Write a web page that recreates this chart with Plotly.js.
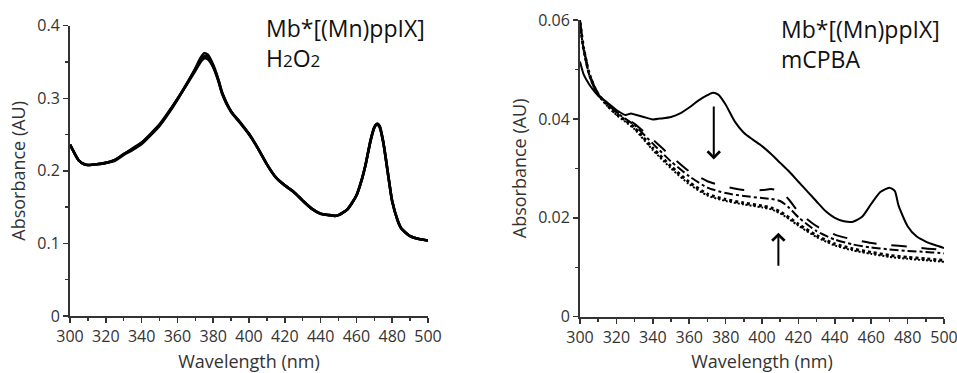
<!DOCTYPE html>
<html>
<head>
<meta charset="utf-8">
<script src="https://cdn.plot.ly/plotly-3.0.1.min.js"></script>
<style>html,body{margin:0;padding:0;background:#fff;}#chart{width:957px;height:373px;}</style>
</head>
<body>
<div id="chart"></div>
<script>
// ---- Left panel: Mb*[(Mn)ppIX] + H2O2 ----
const leftWavelength = [300,303,305,308,310,315,320,325,330,335,340,345,350,355,360,365,370,373,375,377,380,383,385,390,395,400,405,410,415,420,425,430,435,440,445,448,450,455,460,463,465,468,470,471,472,473,475,478,480,483,485,490,495,500];
const leftScan1 = [0.236,0.222,0.214,0.209,0.208,0.209,0.211,0.214,0.222,0.229,0.237,0.249,0.262,0.279,0.298,0.319,0.341,0.356,0.362,0.360,0.346,0.325,0.308,0.282,0.267,0.251,0.231,0.209,0.191,0.180,0.171,0.159,0.148,0.141,0.139,0.138,0.139,0.147,0.166,0.188,0.207,0.243,0.260,0.264,0.265,0.262,0.240,0.190,0.158,0.132,0.121,0.110,0.106,0.104];
const leftScan2 = [0.236,0.222,0.214,0.209,0.208,0.209,0.211,0.215,0.223,0.230,0.238,0.250,0.263,0.280,0.299,0.319,0.340,0.353,0.358,0.357,0.344,0.324,0.307,0.282,0.267,0.251,0.231,0.209,0.191,0.180,0.171,0.159,0.148,0.141,0.139,0.138,0.139,0.147,0.166,0.188,0.207,0.243,0.260,0.264,0.264,0.261,0.240,0.190,0.158,0.132,0.121,0.110,0.106,0.104];
const leftScan3 = [0.236,0.222,0.214,0.209,0.208,0.209,0.211,0.215,0.223,0.231,0.239,0.251,0.264,0.281,0.299,0.318,0.338,0.350,0.355,0.354,0.343,0.323,0.306,0.281,0.266,0.250,0.231,0.209,0.191,0.180,0.171,0.159,0.148,0.141,0.139,0.138,0.139,0.147,0.166,0.188,0.207,0.242,0.259,0.263,0.263,0.260,0.239,0.190,0.158,0.132,0.121,0.110,0.106,0.104];

// ---- Right panel: Mb*[(Mn)ppIX] + mCPBA ----
const rightWavelengthInitial = [300,302,305,308,310,315,320,325,328,330,335,340,345,350,355,360,365,370,373,376,380,385,390,395,400,405,410,415,420,425,430,435,440,445,450,455,460,465,470,473,475,480,485,490,495,500];
const rightInitial = [0.0516,0.0490,0.0470,0.0455,0.0447,0.0433,0.0418,0.0408,0.0411,0.0409,0.0404,0.0399,0.0401,0.0404,0.0411,0.0423,0.0437,0.0448,0.0453,0.0449,0.0429,0.0395,0.0372,0.0358,0.0345,0.0329,0.0311,0.0293,0.0273,0.0253,0.0233,0.0213,0.0200,0.0193,0.0192,0.0202,0.0228,0.0252,0.0261,0.0254,0.0225,0.0183,0.0162,0.0152,0.0145,0.0139];
const rightWavelength = [300,302,305,308,310,315,320,325,330,340,350,360,370,380,390,400,405,410,415,420,430,440,450,460,470,480,490,500];
const rightDashed   = [0.0600,0.0545,0.0495,0.0465,0.0452,0.0432,0.0415,0.0402,0.0390,0.0358,0.0325,0.0294,0.0274,0.0263,0.0256,0.0256,0.0258,0.0254,0.0236,0.0212,0.0183,0.0166,0.0156,0.0149,0.0145,0.0142,0.0138,0.0135];
const rightDashDot  = [0.0590,0.0540,0.0490,0.0462,0.0450,0.0430,0.0413,0.0400,0.0387,0.0350,0.0314,0.0284,0.0261,0.0250,0.0244,0.0240,0.0238,0.0234,0.0220,0.0201,0.0173,0.0156,0.0146,0.0140,0.0136,0.0133,0.0131,0.0128];
const rightDotted1  = [0.0595,0.0542,0.0492,0.0463,0.0450,0.0428,0.0410,0.0397,0.0382,0.0341,0.0304,0.0272,0.0248,0.0237,0.0230,0.0224,0.0220,0.0212,0.0200,0.0187,0.0164,0.0147,0.0137,0.0130,0.0124,0.0120,0.0117,0.0114];
const rightDotted2  = [0.0595,0.0540,0.0490,0.0461,0.0448,0.0426,0.0408,0.0394,0.0379,0.0337,0.0300,0.0268,0.0245,0.0234,0.0227,0.0221,0.0217,0.0209,0.0197,0.0184,0.0161,0.0144,0.0134,0.0127,0.0121,0.0117,0.0114,0.0111];

// arrows (data coordinates): [x, tail y, head y]
const arrowDown = [373.5, 0.0428, 0.0318];
const arrowUp   = [409, 0.0100, 0.0170];

const W = 957, H = 373;
const FONT = '"Open Sans", sans-serif';
const GREY = '#333';

function line(x, y, xa, ya, width, dash) {
  return {x: x, y: y, xaxis: xa, yaxis: ya, type: 'scatter', mode: 'lines',
    line: {color: '#000', width: width, dash: dash || 'solid', shape: 'spline', smoothing: 0.6},
    hoverinfo: 'skip', showlegend: false};
}

const traces = [
  line(leftWavelength, leftScan3, 'x', 'y', 2.6),
  line(leftWavelength, leftScan2, 'x', 'y', 2.6),
  line(leftWavelength, leftScan1, 'x', 'y', 2.6),
  line(rightWavelengthInitial, rightInitial, 'x2', 'y2', 2),
  line(rightWavelength, rightDashed, 'x2', 'y2', 2, 'longdash'),
  line(rightWavelength, rightDashDot, 'x2', 'y2', 2, 'dashdot'),
  line(rightWavelength, rightDotted1, 'x2', 'y2', 3, 'dot'),
  line(rightWavelength, rightDotted2, 'x2', 'y2', 2, '2px,2px')
];

function xAxis(domain, anchor) {
  return {
    domain: domain, anchor: anchor, range: [300, 500], tickvals: [300,320,340,360,380,400,420,440,460,480,500],
    showgrid: false, zeroline: false, showline: true, linecolor: GREY, linewidth: 2,
    ticks: 'outside', ticklen: 5, tickwidth: 1.5, tickcolor: GREY, ticklabeloverflow: 'allow',
    minor: {ticks: 'outside', dtick: 10, ticklen: 3, tickwidth: 1.5, tickcolor: GREY},
    tickfont: {family: FONT, size: 16, color: GREY},
    title: {text: 'Wavelength (nm)', font: {family: FONT, size: 18, color: GREY}, standoff: 15},
    fixedrange: true
  };
}
function yAxis(domain, anchor, range, dtick, minorDtick) {
  return {
    domain: domain, anchor: anchor, range: range, dtick: dtick,
    showgrid: false, zeroline: false, showline: true, linecolor: GREY, linewidth: 2,
    ticks: 'outside', ticklen: 5, tickwidth: 1.5, tickcolor: GREY, ticklabeloverflow: 'allow',
    minor: {ticks: 'outside', dtick: minorDtick, ticklen: 3, tickwidth: 1.5, tickcolor: GREY},
    tickfont: {family: FONT, size: 16, color: GREY},
    title: {text: 'Absorbance (AU)', font: {family: FONT, size: 18, color: GREY}, standoff: 7},
    fixedrange: true
  };
}

function arrow(a, xref, yref) {
  return {x: a[0], y: a[2], ax: a[0], ay: a[1], xref: xref, yref: yref, axref: xref, ayref: yref,
    text: '', showarrow: true, arrowhead: 4, arrowsize: 1.2, arrowwidth: 2, arrowcolor: '#000'};
}
function label(text, px, py) {
  return {text: text, xref: 'paper', yref: 'paper', x: px / W, y: 1 - py / H,
    xanchor: 'left', yanchor: 'middle', showarrow: false, align: 'left',
    font: {family: FONT, size: 23, color: '#111'}};
}

const layout = {
  width: W, height: H,
  margin: {l: 0, r: 0, t: 0, b: 0},
  paper_bgcolor: '#fff', plot_bgcolor: 'rgba(0,0,0,0)',
  showlegend: false,
  xaxis: xAxis([70 / W, 428 / W], 'y'),
  yaxis: yAxis([1 - 316 / H, 1 - 25.7 / H], 'x', [0, 0.4], 0.1, 0.05),
  xaxis2: xAxis([580 / W, 944 / W], 'y2'),
  yaxis2: yAxis([1 - 316.7 / H, 1 - 20 / H], 'x2', [0, 0.06], 0.02, 0.01),
  annotations: [
    label('Mb*[(Mn)ppIX]<br>H<span style="font-size:17px">2</span>O<span style="font-size:17px">2</span>', 264, 43),
    label('Mb*[(Mn)ppIX]<br>mCPBA', 779, 44),
    arrow(arrowDown, 'x2', 'y2'),
    arrow(arrowUp, 'x2', 'y2')
  ]
};

Plotly.newPlot('chart', traces, layout, {staticPlot: true, displayModeBar: false});
</script>
</body>
</html>
